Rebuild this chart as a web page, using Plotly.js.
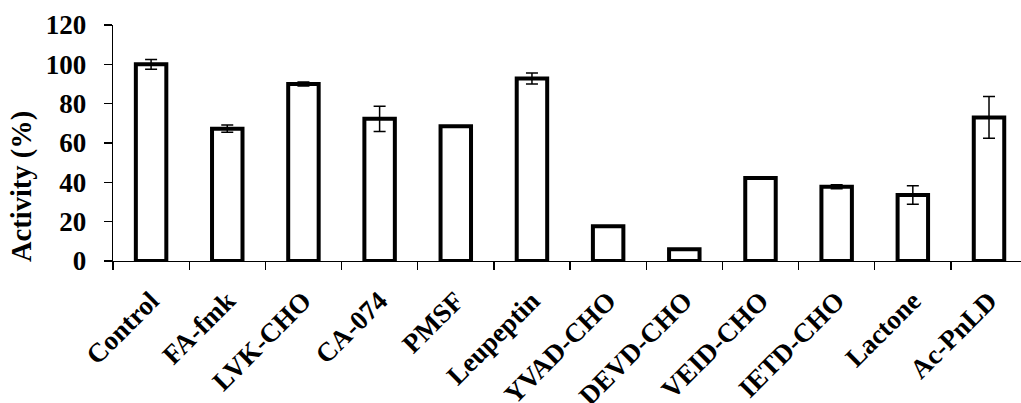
<!DOCTYPE html>
<html>
<head>
<meta charset="utf-8">
<script src="https://cdn.plot.ly/plotly-3.0.1.min.js"></script>
<style>html,body{margin:0;padding:0;overflow:hidden;background:#fff;}#chart{width:1021px;height:403px;}</style>
</head>
<body>
<div id="chart"></div>
<script>
const categories = ["Control","FA-fmk","LVK-CHO","CA-074","PMSF","Leupeptin","YVAD-CHO","DEVD-CHO","VEID-CHO","IETD-CHO","Lactone","Ac-PnLD"];
const activity = [100, 67.3, 90, 72.3, 68.5, 92.8, 17.7, 6, 42.2, 37.8, 33.5, 73];
const errors = [2.5, 1.8, 1, 6.4, 0, 2.8, 0, 0, 0, 1, 4.7, 10.6];
const yTicks = [0, 20, 40, 60, 80, 100, 120];

const fam = "Liberation Serif";

const trace = {
  type: "bar",
  x: categories,
  y: activity,
  width: 0.4,
  marker: {color: "#fff", line: {color: "#000", width: 4}},
  error_y: {type: "data", array: errors, visible: true, color: "#000", thickness: 1.5, width: 6},
  hoverinfo: "none"
};

const layout = {
  width: 1021, height: 403,
  margin: {l: 113, r: 0, t: 25, b: 142, pad: 0},
  paper_bgcolor: "#fff", plot_bgcolor: "#fff",
  showlegend: false,
  font: {family: fam, color: "#000"},
  xaxis: {
    type: "category",
    range: [-0.5, 11.42],
    tickson: "boundaries",
    ticks: "outside", ticklen: 8, tickwidth: 1.3, tickcolor: "#000",
    showline: true, linecolor: "#000", linewidth: 1.3,
    tickangle: -45,
    ticklabelstandoff: 12,
    tickfont: {family: fam, size: 27, color: "#000", weight: "bold"},
    showgrid: false, zeroline: false, fixedrange: true
  },
  yaxis: {
    range: [0, 120],
    tickvals: yTicks,
    ticktext: yTicks.map(String),
    ticks: "outside", ticklen: 8, tickwidth: 1.3, tickcolor: "#000",
    showline: true, linecolor: "#000", linewidth: 1.3,
    tickfont: {family: fam, size: 27, color: "#000", weight: "bold"},
    ticklabelstandoff: 12,
    showgrid: false, zeroline: false, fixedrange: true
  },
  annotations: [{
    text: "<b>Activity (%)</b>", textangle: -90, showarrow: false,
    xref: "paper", yref: "paper", x: (22 - 113) / 908, y: (261 - 187) / 236,
    xanchor: "center", yanchor: "middle",
    font: {family: fam, size: 28.5, color: "#000"}
  }]
};

Plotly.newPlot("chart", [trace], layout, {displayModeBar: false, staticPlot: true});
</script>
</body>
</html>
